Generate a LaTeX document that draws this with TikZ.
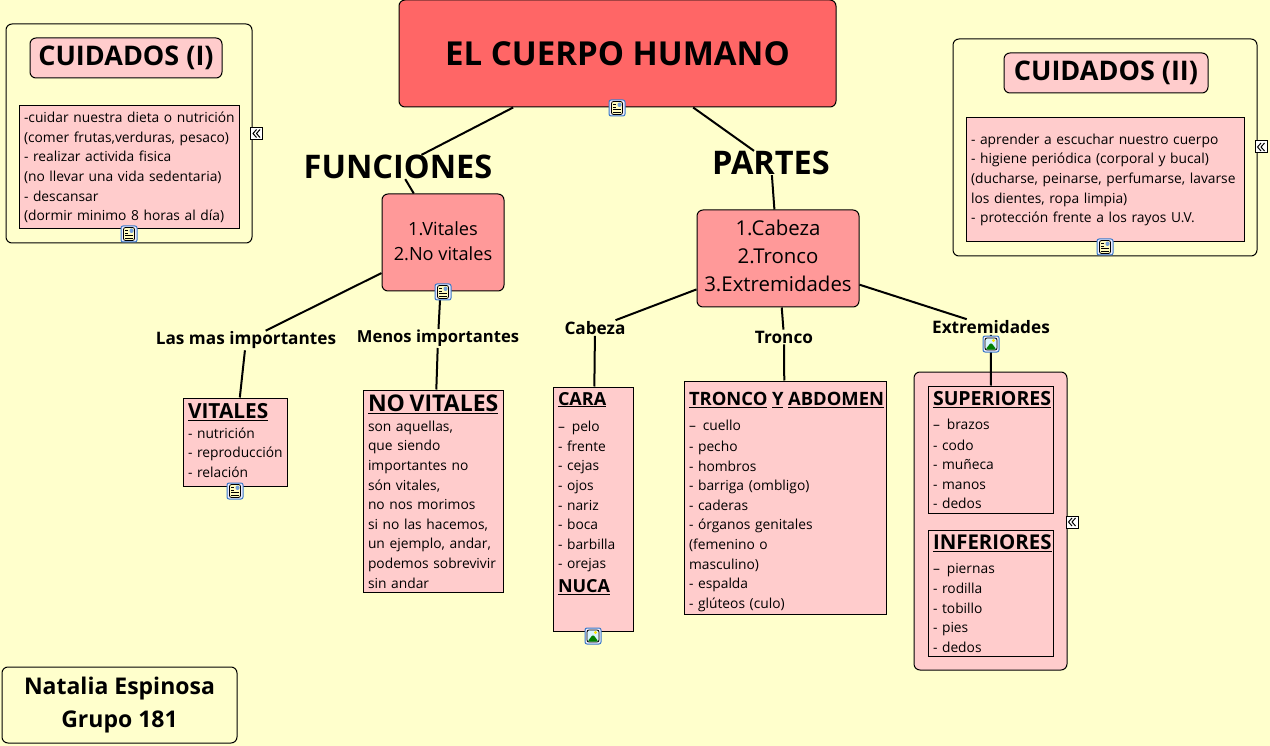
\documentclass[tikz,border=0pt]{standalone}
\usepackage{fontspec}
\setmainfont{Open Sans}
\definecolor{paper}{HTML}{FFFFCC}
\definecolor{headred}{HTML}{FF6666}
\definecolor{midred}{HTML}{FF9999}
\definecolor{softred}{HTML}{FFCCCC}
\definecolor{iconblue}{HTML}{3A78C8}
\newcommand{\lift}[1]{\rule{0pt}{#1pt}}
\newcommand{\drop}[1]{\rule[-#1pt]{0pt}{#1pt}}
\newcommand{\boxhead}[2]{\mbox{\textbf{\fontsize{#1}{20}\selectfont #2}}}
\tikzset{
    sized/.style 2 args={
        minimum width=#1pt,
        minimum height=#2pt,
        text width=#1pt-10pt,
        inner xsep=5pt,
        inner ysep=0pt
    },
    plainbox/.style={
        draw,
        line width=1pt,
        fill=softred,
        align=left,
        font=\fontsize{13.8}{19.6}\selectfont
    },
    roundbox/.style={
        draw,
        line width=1pt,
        rounded corners=6pt,
        align=center,
        inner sep=0pt
    },
    linklabel/.style={
        font=\fontsize{17.2}{20}\selectfont\bfseries,
        inner xsep=1pt,
        inner ysep=1pt
    },
    headlabel/.style={
        font=\fontsize{32.5}{36}\selectfont\bfseries,
        inner xsep=1pt,
        inner ysep=0pt
    },
    link/.style={
        line width=2pt
    },
    noteicon/.style={
        draw=iconblue,
        line width=1pt,
        fill=blue!8,
        rounded corners=2pt,
        minimum size=16pt,
        inner sep=0pt,
        path picture={
            \draw [black, line width=.8pt, fill=yellow!25] (path picture bounding box.center) ++(-5.5,-6.5) rectangle ++(11,13);
            \fill [iconblue!70] (path picture bounding box.center) ++(0.5,-5.5) rectangle ++(4,4.5);
            \draw [black, line width=.8pt] (path picture bounding box.center) ++(-4,-3.5) -- ++(3,0) ++(-3,2.5) -- ++(3,0) ++(-3,2.5) -- ++(8,0) ++(-8,2.5) -- ++(8,0);
        }
    },
    imageicon/.style={
        draw=iconblue,
        line width=1pt,
        fill=blue!8,
        rounded corners=2pt,
        minimum size=16pt,
        inner sep=0pt,
        path picture={
            \draw [black, line width=.8pt, fill=cyan!15] (path picture bounding box.center) ++(-6,-6) rectangle ++(12,12);
            \fill [green!50!black] (path picture bounding box.center) ++(-5.5,5.5) -- ++(5.5,-7) -- ++(5.5,7) -- cycle;
            \fill [yellow!90!orange] (path picture bounding box.center) ++(2.5,-3.5) circle (1.6);
        }
    },
    foldicon/.style={
        draw,
        line width=1pt,
        fill=white,
        minimum size=12pt,
        inner sep=0pt,
        path picture={
            \draw [black, line width=1pt] (path picture bounding box.center) ++(0,-4) -- ++(-3.5,4) -- ++(3.5,4);
            \draw [black, line width=1pt] (path picture bounding box.center) ++(3.5,-4) -- ++(-3.5,4) -- ++(3.5,4);
        }
    }
}
\begin{document}
\begin{tikzpicture}[x=1pt,y=-1pt]
    \useasboundingbox [fill=paper] (0,0) rectangle (1270,746);

    % title and main branches
    \node [roundbox, fill=headred, minimum width=437pt, minimum height=107pt, font=\fontsize{33}{38}\selectfont\bfseries] (title) at (617.5,53.5) {EL CUERPO HUMANO};
    \node [headlabel] (funciones) at (398,167) {FUNCIONES};
    \node [headlabel] (partes) at (771,163) {PARTES};
    \node [roundbox, fill=midred, minimum width=122pt, minimum height=97pt, font=\fontsize{18.2}{25}\selectfont] (funcbox) at (443,242.5) {1.Vitales\\2.No vitales\drop{3}};
    \node [roundbox, fill=midred, minimum width=162pt, minimum height=97pt, font=\fontsize{20.4}{28}\selectfont] (partbox) at (778,258.5) {1.Cabeza\\2.Tronco\\3.Extremidades\drop{5}};

    % labels on the links
    \node [linklabel] (masimp) at (246,340.5) {Las mas importantes};
    \node [linklabel, font=\fontsize{16.6}{20}\selectfont\bfseries] (menosimp) at (438,338.5) {Menos importantes};
    \node [linklabel] (cabeza) at (595,328) {Cabeza};
    \node [linklabel] (tronco) at (784,337) {Tronco};
    \node [linklabel] (extrem) at (991,327) {Extremidades};

    % functions
    \node [plainbox, sized={104}{88}] (vitales) at (235,442) {\boxhead{20.8}{\underline{VITALES}}\\- nutrición\\\mbox{- reproducción}\\- relación\drop{3}};
    \node [plainbox, sized={140}{202}] (novitales) at (433,491) {\lift{18}\boxhead{23}{\underline{NO VITALES}}\\son aquellas,\\que siendo\\importantes no\\són vitales,\\no nos morimos\\si no las hacemos,\\un ejemplo, andar,\\podemos sobrevivir\\sin andar};

    % parts
    \node [plainbox, sized={80}{244}] (cara) at (593,509) {\boxhead{18}{\underline{CARA}}\\[7pt]-- \,pelo\\- frente\\- cejas\\- ojos\\- nariz\\- boca\\- barbilla\\- orejas\\[4pt]\boxhead{18}{\underline{NUCA}}\\[14pt]~};
    \node [plainbox, sized={202}{233}] (abdomen) at (785,497.5) {\lift{22}\boxhead{18.4}{\underline{TRONCO} \underline{Y} \underline{ABDOMEN}}\\[6pt]-- \,cuello\\[1pt]- pecho\\- hombros\\- barriga (ombligo)\\- caderas\\- órganos genitales\\(femenino o\\masculino)\\- espalda\\- glúteos (culo)};
    \node [roundbox, fill=softred, minimum width=153pt, minimum height=298pt] (limbs) at (990.5,521) {};
    \node [plainbox, sized={125}{127}] (superiores) at (990.5,449.5) {\lift{16}\boxhead{19.5}{\underline{SUPERIORES}}\\[4pt]-- \,brazos\\[1pt]- codo\\- muñeca\\- manos\\- dedos};
    \node [plainbox, sized={125}{126}] (inferiores) at (990.5,593) {\lift{16}\boxhead{20.4}{\underline{INFERIORES}}\\[4pt]-- \,piernas\\[1pt]- rodilla\\- tobillo\\- pies\\- dedos};

    % care panels
    \node [roundbox, fill=paper, minimum width=246pt, minimum height=219pt] (careone) at (129,133.5) {};
    \node [roundbox, fill=softred, minimum width=192pt, minimum height=40pt, font=\fontsize{27}{30}\selectfont\bfseries] (careonehead) at (126,58) {CUIDADOS (I)};
    \node [plainbox, sized={220}{123}] (careonebox) at (129,167.5) {\mbox{-cuidar nuestra dieta o nutrición}\\(comer frutas,verduras, pesaco)\\- realizar activida fisica\\(no llevar una vida sedentaria)\\- descansar\\(dormir minimo 8 horas al día)};
    \node [roundbox, fill=paper, minimum width=304pt, minimum height=217pt] (caretwo) at (1105,147.5) {};
    \node [roundbox, fill=softred, minimum width=204pt, minimum height=40pt, font=\fontsize{27}{30}\selectfont\bfseries] (caretwohead) at (1106,73) {CUIDADOS (II)};
    \node [plainbox, sized={278}{124}] (caretwobox) at (1105,180) {- aprender a escuchar nuestro cuerpo\\- higiene periódica (corporal y bucal)\\(ducharse, peinarse, perfumarse, lavarse\\los dientes, ropa limpia)\\- protección frente a los rayos U.V.};

    % signature
    \node [roundbox, fill=paper, minimum width=235pt, minimum height=76pt, font=\fontsize{23}{33}\selectfont\bfseries] (author) at (119.5,705) {Natalia Espinosa\\Grupo 181};

    % links
    \draw [link] (title) -- (funciones);
    \draw [link] (title) -- (partes);
    \draw [link] (funciones) -- (funcbox);
    \draw [link] (partes) -- (partbox);
    \draw [link] (funcbox) -- (masimp);
    \draw [link] (funcbox) -- (menosimp);
    \draw [link] (masimp) -- (vitales);
    \draw [link] (menosimp) -- (novitales);
    \draw [link] (partbox) -- (cabeza);
    \draw [link] (partbox) -- (tronco);
    \draw [link] (partbox) -- (extrem);
    \draw [link] (cabeza) -- (cara);
    \draw [link] (tronco) -- (abdomen);
    \draw [link] (extrem) -- (superiores);

    % icons
    \node [noteicon] (titlenote) at (617,108) {};
    \node [noteicon] (funcnote) at (443,292) {};
    \node [noteicon] (vitalnote) at (235,491) {};
    \node [noteicon] (careonenote) at (129,234) {};
    \node [noteicon] (caretwonote) at (1105,247) {};
    \node [imageicon] (caraimage) at (593,636) {};
    \node [imageicon] (extremimage) at (991,344) {};
    \node [foldicon] (careonefold) at (256.5,133.5) {};
    \node [foldicon] (caretwofold) at (1261,147) {};
    \node [foldicon] (limbsfold) at (1072,522) {};
\end{tikzpicture}
\end{document}
